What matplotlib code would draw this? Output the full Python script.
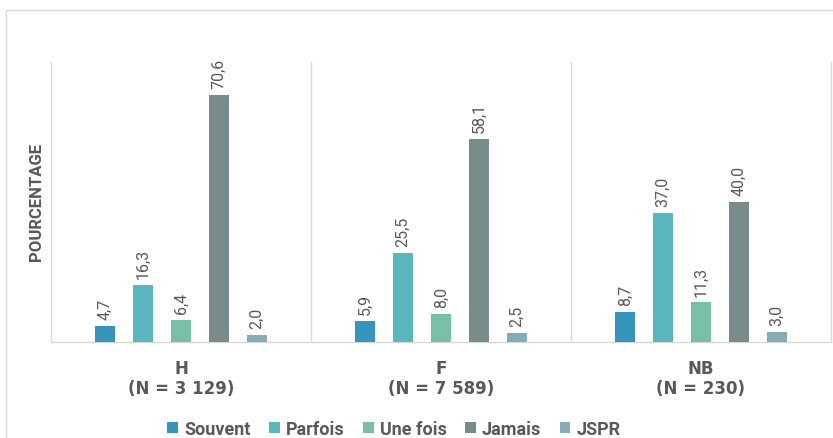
import matplotlib
matplotlib.use("Agg")
import matplotlib.pyplot as plt
from matplotlib.patches import Rectangle
import numpy as np

groups = ["H\n(N = 3 129)", "F\n(N = 7 589)", "NB\n(N = 230)"]
series = ["Souvent", "Parfois", "Une fois", "Jamais", "JSPR"]
souvent = [4.7, 5.9, 8.7]
parfois = [16.3, 25.5, 37.0]
une_fois = [6.4, 8.0, 11.3]
jamais = [70.6, 58.1, 40.0]
jspr = [2.0, 2.5, 3.0]
values = [souvent, parfois, une_fois, jamais, jspr]
colors = ["#3794BB", "#5AB7C0", "#77BFA5", "#798B8B", "#86ACB6"]

text_col = "#595959"
grid_col = "#D9D9D9"
FONT = "Roboto"
plt.rcParams["font.family"] = [FONT, "DejaVu Sans"]

fig = plt.figure(figsize=(8.33, 4.39), dpi=100)
ax = fig.add_axes([51 / 833, 1 - 343 / 439, 780 / 833, 280 / 439])

x = np.arange(len(groups))
step = 0.146
width = 0.077
for i, (name, vals, col) in enumerate(zip(series, values, colors)):
    pos = x + (i - 2) * step
    bars = ax.bar(pos, vals, width, color=col, label=name, zorder=3)
    for b, v in zip(bars, vals):
        ax.annotate(f"{v:.1f}".replace(".", ","),
                    (b.get_x() + b.get_width() / 2, v),
                    xytext=(0, 5), textcoords="offset points",
                    rotation=90, ha="center", va="bottom",
                    fontsize=11.5, color=text_col, family=FONT)

ax.set_xlim(-0.5, 2.5)
ax.set_ylim(0, 80)
ax.set_yticks([])
ax.set_xticks(x)
ax.set_xticklabels(groups, fontsize=12, fontweight="bold", color=text_col,
                   family="DejaVu Sans")
ax.tick_params(axis="x", length=0, pad=12)
for xs in [0.5, 1.5]:
    ax.axvline(xs, color=grid_col, lw=1, zorder=1)
for s in ["left", "right", "bottom"]:
    ax.spines[s].set_color(grid_col)
    ax.spines[s].set_linewidth(1)
ax.spines["top"].set_visible(False)

fig.text(37 / 833, 1 - 202 / 439, "POURCENTAGE", rotation=90, ha="center",
         va="center", fontsize=12, fontweight="bold", color=text_col,
         family=FONT)

leg = fig.legend(loc="center", bbox_to_anchor=(394 / 833, 1 - 430 / 439),
                 ncol=5, frameon=False, handlelength=0.6, handleheight=0.6,
                 handletextpad=0.35, columnspacing=1.0,
                 prop={"family": FONT, "size": 13, "weight": "bold"})
for t in leg.get_texts():
    t.set_color(text_col)

fig.add_artist(Rectangle((6 / 833, -0.1), 2, 1 - 11 / 439 + 0.1,
                         transform=fig.transFigure, fill=False,
                         edgecolor=grid_col, lw=1))

fig.savefig("out.png", dpi=100)
